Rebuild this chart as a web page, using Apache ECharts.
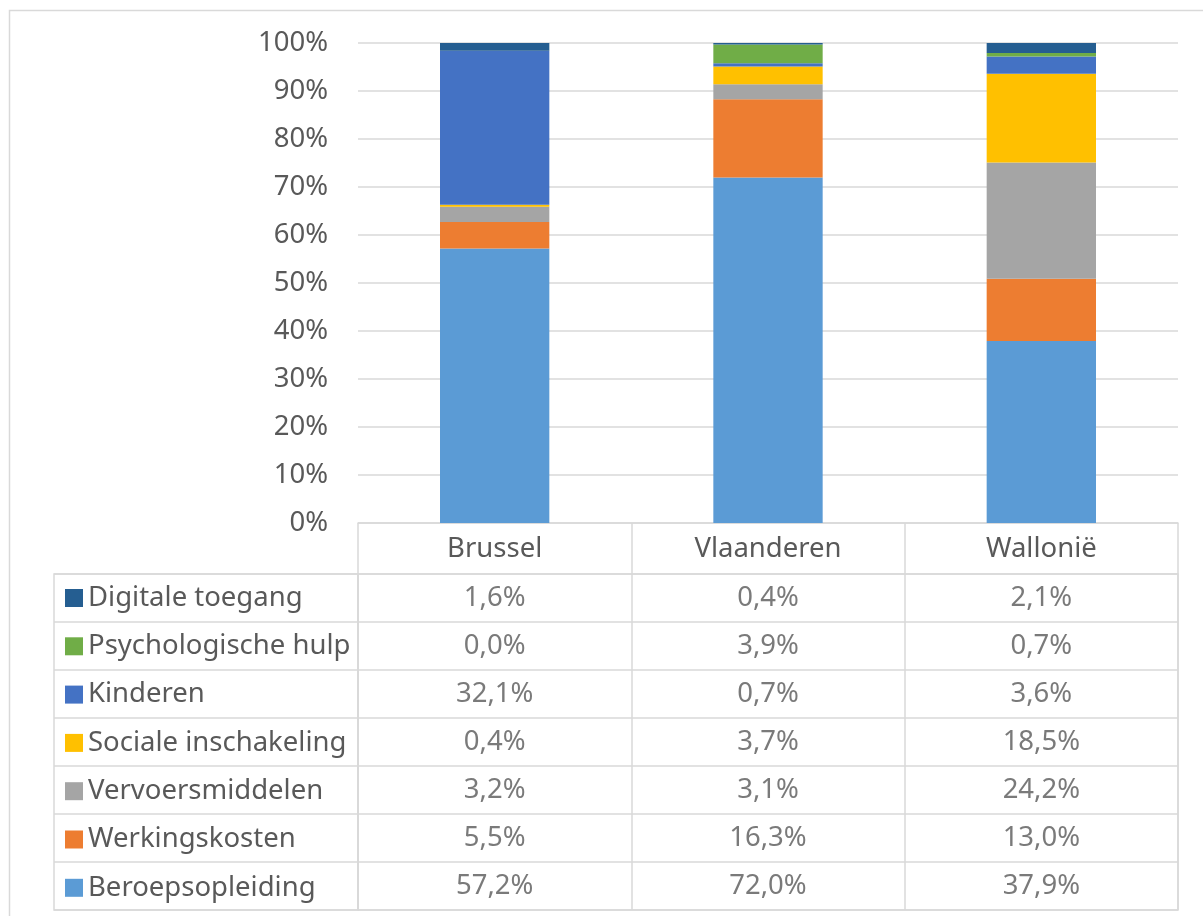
<!DOCTYPE html>
<html>
<head>
<meta charset="utf-8">
<script src="https://cdn.jsdelivr.net/npm/echarts@6/dist/echarts.min.js"></script>
<style>
  html, body { margin: 0; padding: 0; background: #fff; }
</style>
</head>
<body>
<div id="myChart" style="width: 1203px; height: 916px;"></div>
<script>
// regio's (kolommen)
const regions = ['Brussel', 'Vlaanderen', 'Wallonië']
// categorieën, van onder naar boven gestapeld
const seriesNames = ['Beroepsopleiding', 'Werkingskosten', 'Vervoersmiddelen', 'Sociale inschakeling', 'Kinderen', 'Psychologische hulp', 'Digitale toegang']
const seriesColors = ['#5B9BD5', '#ED7D31', '#A5A5A5', '#FFC000', '#4472C4', '#70AD47', '#255E91']
// aandeel in % per regio
const beroepsopleiding = [57.2, 72.0, 37.9]
const werkingskosten = [5.5, 16.3, 13.0]
const vervoersmiddelen = [3.2, 3.1, 24.2]
const socialeInschakeling = [0.4, 3.7, 18.5]
const kinderen = [32.1, 0.7, 3.6]
const psychologischeHulp = [0.0, 3.9, 0.7]
const digitaleToegang = [1.6, 0.4, 2.1]
const yTicks = [0, 10, 20, 30, 40, 50, 60, 70, 80, 90, 100]

const seriesValues = [beroepsopleiding, werkingskosten, vervoersmiddelen, socialeInschakeling, kinderen, psychologischeHulp, digitaleToegang]

const FONT = 'Noto Sans'
const TXT = '#595959'
const LINE = '#D9D9D9'
const FS = 27.5

const fmt = v => v.toFixed(1).replace('.', ',') + '%'

// gestapelde staven
const barSeries = seriesNames.map((name, i) => ({
  name: name,
  type: 'bar',
  stack: 'totaal',
  barWidth: '40%',
  xAxisIndex: 0,
  yAxisIndex: 0,
  itemStyle: { color: seriesColors[i] },
  data: seriesValues[i]
}))

// waarden van de datatabel
const tableCells = []
seriesValues.forEach((vals, row) => {
  vals.forEach((v, col) => {
    tableCells.push([regions[col], seriesNames[row], v])
  })
})

const myChart = echarts.init(document.getElementById('myChart'))
myChart.setOption({
  backgroundColor: '#fff',
  animation: false,
  textStyle: { fontFamily: FONT },
  graphic: [
    {
      type: 'rect',
      shape: { x: 9.5, y: 10.5, width: 1300, height: 1000 },
      style: { fill: null, stroke: LINE, lineWidth: 1.5 },
      silent: true
    }
  ],
  legend: {
    orient: 'vertical',
    left: 65,
    top: 583,
    padding: 0,
    itemWidth: 18,
    itemHeight: 18,
    itemGap: 18.3,
    icon: 'rect',
    selectedMode: false,
    data: seriesNames.slice().reverse(),
    textStyle: { fontFamily: FONT, fontSize: FS, color: TXT, lineHeight: 30 }
  },
  grid: [
    { left: 358, right: 25, top: 43, bottom: 393 },
    { left: 358, right: 25, top: 574, bottom: 6, show: true, borderColor: LINE, borderWidth: 1.5 },
    { left: 54, width: 304, top: 574, bottom: 6, show: true, borderColor: LINE, borderWidth: 1.5 }
  ],
  xAxis: [
    {
      gridIndex: 0,
      type: 'category',
      data: regions,
      axisLine: { show: true, lineStyle: { color: LINE, width: 1.5 } },
      axisTick: { show: true, length: 51, interval: 0, lineStyle: { color: LINE, width: 1.5 } },
      axisLabel: { interval: 0, margin: 26, verticalAlign: 'middle', fontSize: FS, color: TXT, fontFamily: FONT }
    },
    {
      gridIndex: 1,
      type: 'category',
      data: regions,
      axisLine: { show: false },
      axisTick: { show: false },
      axisLabel: { show: false, interval: 0 },
      splitLine: { show: true, interval: 0, lineStyle: { color: LINE, width: 1.5 } }
    },
    {
      gridIndex: 2,
      type: 'category',
      data: [''],
      axisLine: { show: false },
      axisTick: { show: false },
      axisLabel: { show: false }
    }
  ],
  yAxis: [
    {
      gridIndex: 0,
      type: 'value',
      min: 0,
      max: 100,
      interval: 10,
      axisLine: { show: false },
      axisTick: { show: false },
      axisLabel: {
        margin: 30,
        fontSize: FS,
        color: TXT,
        fontFamily: FONT,
        formatter: v => (yTicks.indexOf(v) >= 0 ? v + '%' : '')
      },
      splitLine: { lineStyle: { color: LINE, width: 1.5 } }
    },
    {
      gridIndex: 1,
      type: 'category',
      data: seriesNames,
      axisLine: { show: false },
      axisTick: { show: false },
      axisLabel: { show: false, interval: 0 },
      splitLine: { show: true, interval: 0, lineStyle: { color: LINE, width: 1.5 } }
    },
    {
      gridIndex: 2,
      type: 'category',
      data: seriesNames,
      axisLine: { show: false },
      axisTick: { show: false },
      axisLabel: { show: false, interval: 0 },
      splitLine: { show: true, interval: 0, lineStyle: { color: LINE, width: 1.5 } }
    }
  ],
  series: barSeries.concat([
    {
      name: 'tabel',
      type: 'scatter',
      xAxisIndex: 1,
      yAxisIndex: 1,
      symbol: 'rect',
      symbolSize: 1,
      itemStyle: { color: 'transparent' },
      silent: true,
      label: {
        show: true,
        position: 'inside',
        fontSize: FS,
        color: TXT,
        fontFamily: FONT,
        formatter: p => fmt(p.data[2])
      },
      data: tableCells
    }
  ])
})
// 自适应图表
window.addEventListener('resize', () => { myChart.resize() })
</script>
</body>
</html>
